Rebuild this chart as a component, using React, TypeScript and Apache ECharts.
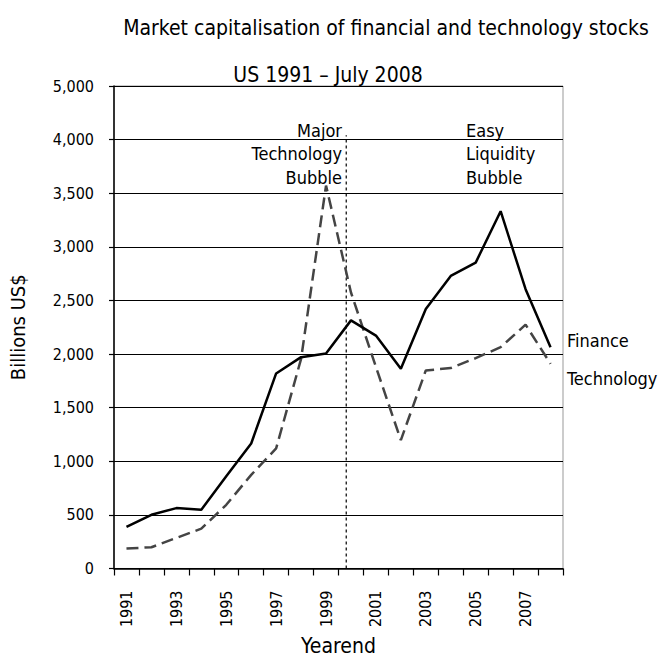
import React, { useEffect, useRef } from "react";
import * as echarts from "echarts";

const years = ["1991","1992","1993","1994","1995","1996","1997","1998","1999","2000","2001","2002","2003","2004","2005","2006","2007","2008"];
const finance = [387, 501, 563, 548, 860, 1166, 1819, 1971, 2005, 2314, 2172, 1863, 2420, 2729, 2853, 3332, 2605, 2064];
const technology = [186, 198, 285, 371, 594, 873, 1120, 1955, 3571, 2574, 1880, 1197, 1847, 1869, 1962, 2064, 2274, 1909];
const yTicks = [0, 500, 1000, 1500, 2000, 2500, 3000, 3500, 4000, 4500];
const yTickLabels = ["0", "500", "1,000", "1,500", "2,000", "2,500", "3,000", "3,500", "4,000", "5,000"];
const dividerX = 8.81;
const dividerTop = 4040;
const leftNote = ["Major", "Technology", "Bubble"];
const rightNote = ["Easy", "Liquidity", "Bubble"];

const FONT = "'Liberation Sans Narrow', 'Arial Narrow', 'DejaVu Sans Condensed', sans-serif";

export default function App() {
  const ref = useRef<HTMLDivElement>(null);
  useEffect(() => {
    if (!ref.current) return;
    const chart = echarts.init(ref.current, null, { renderer: "svg" });
    const noteY = [130, 153, 177];
    const notes: any[] = [];
    leftNote.forEach((t, i) =>
      notes.push({
        type: "text", x: 342, y: noteY[i],
        style: { text: t, align: "right", verticalAlign: "middle", font: `18px ${FONT}`, fill: "#000" },
      })
    );
    rightNote.forEach((t, i) =>
      notes.push({
        type: "text", x: 466, y: noteY[i],
        style: { text: t, align: "left", verticalAlign: "middle", font: `18px ${FONT}`, fill: "#000" },
      })
    );
    notes.push({
      type: "text", x: 567, y: 340,
      style: { text: "Finance", align: "left", verticalAlign: "middle", font: `18px ${FONT}`, fill: "#000" },
    });
    notes.push({
      type: "text", x: 567, y: 378,
      style: { text: "Technology", align: "left", verticalAlign: "middle", font: `18px ${FONT}`, fill: "#000" },
    });
    chart.setOption({
      animation: false,
      backgroundColor: "#fff",
      textStyle: { fontFamily: FONT },
      title: [
        {
          text: "Market capitalisation of financial and technology stocks",
          left: 381, top: 12, textAlign: "center",
          textStyle: { fontFamily: FONT, fontSize: 21, fontWeight: "normal", color: "#000" },
        },
        {
          text: "US 1991 – July 2008",
          left: 323, top: 59, textAlign: "center",
          textStyle: { fontFamily: FONT, fontSize: 21, fontWeight: "normal", color: "#000" },
        },
      ],
      grid: {
        left: 114, right: 98, top: 86, bottom: 90,
        show: true, borderColor: "#999", borderWidth: 1, backgroundColor: "transparent",
      },
      xAxis: [
        {
          type: "category",
          data: years,
          boundaryGap: true,
          name: "Yearend",
          nameLocation: "middle",
          nameGap: 65,
          nameTextStyle: { fontFamily: FONT, fontSize: 21, color: "#000" },
          axisLine: { onZero: false, lineStyle: { color: "#000", width: 1.5 } },
          axisTick: { show: true, interval: 0, length: 7, lineStyle: { color: "#000", width: 1.2 } },
          axisLabel: {
            interval: 1, rotate: 90, margin: 22,
            fontFamily: FONT, fontSize: 16, color: "#000",
          },
          splitLine: { show: false },
        },
        {
          type: "value", min: -0.5, max: 17.5, show: false,
        },
      ],
      yAxis: {
        type: "value",
        min: 0, max: 4500, interval: 500,
        name: "Billions US$",
        nameLocation: "middle",
        nameGap: 86,
        nameTextStyle: { fontFamily: FONT, fontSize: 20, color: "#000" },
        axisLine: { show: true, onZero: false, lineStyle: { color: "#000", width: 1.5 } },
        axisTick: { show: true, length: 5, lineStyle: { color: "#000", width: 1.2 } },
        axisLabel: {
          margin: 20, fontFamily: FONT, fontSize: 16, color: "#000",
          formatter: (v: number) => {
            const i = yTicks.indexOf(v);
            return i >= 0 ? yTickLabels[i] : "";
          },
        },
        splitLine: { show: true, lineStyle: { color: "#000", width: 1 } },
      },
      series: [
        {
          name: "Finance", type: "line", data: finance, xAxisIndex: 0,
          symbol: "none", lineStyle: { color: "#000", width: 2.5 }, z: 4,
        },
        {
          name: "Technology", type: "line", data: technology, xAxisIndex: 0,
          symbol: "none", lineStyle: { color: "#444", width: 2.5, type: [12, 6] }, z: 3,
        },
        {
          name: "divider", type: "line", xAxisIndex: 1,
          data: [[dividerX, 0], [dividerX, dividerTop]],
          symbol: "none", lineStyle: { color: "#000", width: 1.2, type: [3, 3] }, z: 2,
        },
      ],
      graphic: notes,
    });
    return () => chart.dispose();
  }, []);
  return <div ref={ref} style={{ width: 661, height: 661, position: "absolute", left: 0, top: 0 }} />;
}
